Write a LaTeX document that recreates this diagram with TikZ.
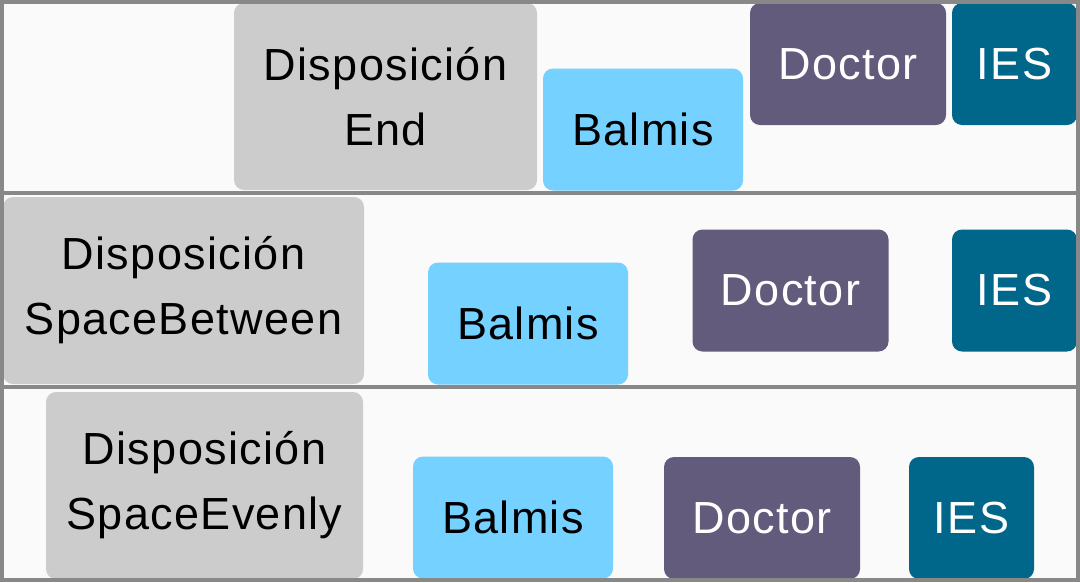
\documentclass[tikz,border=0pt]{standalone}
\usepackage{fontspec}
\setmainfont{Liberation Sans}[LetterSpace=3]
\definecolor{bgcol}{HTML}{FAFAFA}
\definecolor{framecol}{HTML}{888888}
\definecolor{dispcol}{HTML}{CCCCCC}
\definecolor{balmiscol}{HTML}{75D1FF}
\definecolor{doctorcol}{HTML}{625B7C}
\definecolor{iescol}{HTML}{00668A}
\tikzset{
  chip/.style={rounded corners=10pt, inner sep=0pt, align=center,
    font=\fontsize{45}{65}\selectfont, minimum height=122pt},
  dispbox/.style={chip, fill=dispcol, text=black, minimum height=187pt},
  balmisbox/.style={chip, fill=balmiscol, text=black, minimum width=200pt},
  doctorbox/.style={chip, fill=doctorcol, text=white, minimum width=196pt},
  iesbox/.style={chip, fill=iescol, text=white, minimum width=125pt},
}
\begin{document}
\begin{tikzpicture}[x=1pt, y=-1pt]
  \useasboundingbox (0,0) rectangle (1080,582);
  \fill[bgcol] (0,0) rectangle (1080,582);

  % fila End
  \node[dispbox, minimum width=303pt] (dispEnd) at (385.5,96.5) {Disposición\\End};
  \node[balmisbox] (balmisEnd) at (643,129.5) {Balmis};
  \node[doctorbox] (doctorEnd) at (848,64) {Doctor};
  \node[iesbox] (iesEnd) at (1014.5,64) {IES};

  % fila SpaceBetween
  \node[dispbox, minimum width=361pt] (dispBetween) at (183.5,290.5) {Disposición\\SpaceBetween};
  \node[balmisbox] (balmisBetween) at (528,323.5) {Balmis};
  \node[doctorbox] (doctorBetween) at (790.5,290.5) {Doctor};
  \node[iesbox] (iesBetween) at (1014.5,290.5) {IES};

  % fila SpaceEvenly
  \node[dispbox, minimum width=317pt] (dispEvenly) at (204.5,485.5) {Disposición\\SpaceEvenly};
  \node[balmisbox] (balmisEvenly) at (513,517.5) {Balmis};
  \node[doctorbox] (doctorEvenly) at (762,518) {Doctor};
  \node[iesbox] (iesEvenly) at (971.5,518) {IES};

  % marcos
  \draw[framecol, line width=4pt] (2,2) rectangle (1078,580);
  \draw[framecol, line width=4pt] (0,193) -- (1080,193);
  \draw[framecol, line width=4pt] (0,387) -- (1080,387);
\end{tikzpicture}
\end{document}
